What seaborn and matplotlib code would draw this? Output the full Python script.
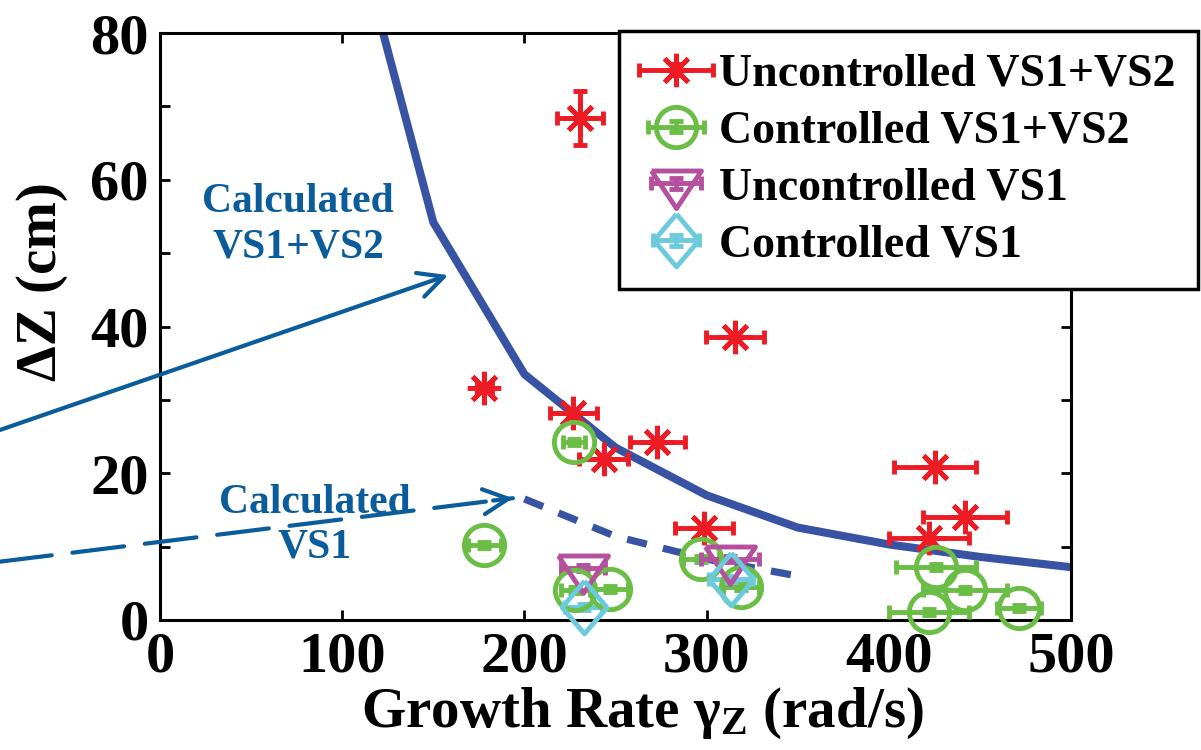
import matplotlib
matplotlib.use("Agg")
import matplotlib.pyplot as plt
from matplotlib.ticker import MultipleLocator
from matplotlib.legend_handler import HandlerErrorbar
import seaborn as sns

# calculated displacement curves
calc_both_rate = [100, 150, 200, 250, 300, 350, 400, 450, 500]
calc_both_dz = [101, 54.2, 33.5, 23.5, 17.0, 12.6, 10.3, 8.6, 7.2]
calc_vs1_rate = [200, 250, 300, 350]
calc_vs1_dz = [16.5, 11.4, 8.3, 6.0]

# measured points (growth rate, dZ, x error, y error)
unc12_rate = [230.6, 178.0, 226.8, 243.5, 273.0, 315.4, 298.5, 425.5, 442.0, 422.0]
unc12_dz = [68.4, 31.6, 28.2, 22.0, 24.3, 38.6, 12.5, 20.8, 14.1, 11.2]
unc12_xerr = [12.7, 4, 13, 13.5, 15, 16, 16, 22.5, 23, 22]
unc12_yerr = [3.7, 0.4, 0.4, 0.4, 0.4, 0.4, 0.4, 0.4, 0.4, 0.4]

con12_rate = [178.0, 227.0, 228.0, 247.0, 297.0, 319.0, 426.0, 442.0, 422.0, 471.5]
con12_dz = [10.2, 24.2, 4.1, 4.2, 8.3, 4.5, 7.2, 4.1, 1.1, 1.6]
con12_xerr = [9, 6, 8, 10, 10, 10, 22, 23, 22, 12]
con12_yerr = [0.4] * 10

unc1_rate = [232.0, 313.0]
unc1_dz = [7.1, 8.3]
unc1_xerr = [12, 16]
unc1_yerr = [0.4, 0.4]

con1_rate = [232.5, 313.5]
con1_dz = [1.8, 5.6]
con1_xerr = [10, 12]
con1_yerr = [0.4, 0.4]

RED = "#ED1C24"
GREEN = "#6BBE45"
MAGENTA = "#B4509E"
CYAN = "#6BCBDC"
CURVE = "#3953A4"
NOTE = "#0B5C9A"

sns.set_theme(style="white")
plt.rcParams.update({
    "font.family": ["Liberation Serif", "DejaVu Serif"],
    "font.weight": "bold",
    "axes.labelweight": "bold",
    "text.color": "black",
    "axes.labelcolor": "black",
    "xtick.color": "black",
    "ytick.color": "black",
    "mathtext.fontset": "custom",
    "mathtext.rm": "Liberation Serif:bold",
    "mathtext.it": "Liberation Serif:bold",
    "mathtext.bf": "Liberation Serif:bold",
    "axes.linewidth": 2.2,
    "axes.edgecolor": "black",
})

fig = plt.figure(figsize=(12.01, 7.5), dpi=100)
ax = fig.add_axes([160 / 1201, 130 / 750, 911 / 1201, 587 / 750])

# calculated curves
sns.lineplot(x=calc_both_rate, y=calc_both_dz, color=CURVE, lw=5.8, ax=ax, zorder=2)
sns.lineplot(x=calc_vs1_rate, y=calc_vs1_dz, color=CURVE, lw=5.2, ax=ax,
             linestyle=(0, (2.8, 2.3)), zorder=2)

asterisk = (8, 2, 0)
tri_down = [(-1, 0.5), (1, 0.5), (0, -1), (-1, 0.5)]
diamond = [(0, 1), (0.85, 0), (0, -1), (-0.85, 0), (0, 1)]

series = [
    ("Uncontrolled VS1+VS2", unc12_rate, unc12_dz, unc12_xerr, unc12_yerr, RED, asterisk, 24, 0.8),
    ("Controlled VS1+VS2", con12_rate, con12_dz, con12_xerr, con12_yerr, GREEN, "o", 29, 0.62),
    ("Uncontrolled VS1", unc1_rate, unc1_dz, unc1_xerr, unc1_yerr, MAGENTA, tri_down, 36, 0.55),
    ("Controlled VS1", con1_rate, con1_dz, con1_xerr, con1_yerr, CYAN, diamond, 38, 0.5),
]

handles, labels, hmap = [], [], {}
for name, x, y, xe, ye, col, mk, ms, hx in series:
    eb = ax.errorbar(x, y, xerr=xe, yerr=ye, linestyle="none", marker=mk, ms=ms,
                     mfc="none", mec=col, mew=3.5, ecolor=col, elinewidth=3.5,
                     capsize=5, capthick=3.5, clip_on=False, zorder=3)
    handles.append(eb)
    labels.append(name)
    hmap[eb] = HandlerErrorbar(xerr_size=hx, yerr_size=0.12)

ax.set_xlim(0, 500)
ax.set_ylim(0, 80)
ax.set_xticks(range(0, 501, 100))
ax.set_yticks(range(0, 81, 20))
ax.yaxis.set_minor_locator(MultipleLocator(10))
ax.tick_params(which="both", direction="in", bottom=True, left=True, top=True, right=True,
               length=7, width=2, colors="black", labelsize=42)
ax.tick_params(axis="x", pad=8)
ax.tick_params(axis="y", pad=8)

ax.set_xlabel(r"Growth Rate $\mathrm{\gamma_Z}$ (rad/s)", fontsize=41, va="top")
ax.xaxis.set_label_coords((642 - 160) / 911, -(686 - 620) / 587)
ax.set_ylabel("ΔZ (cm)", fontsize=41, va="center")
ax.yaxis.set_label_coords(-(160 - 42) / 911, (620 - 282) / 587)

# annotations
ax.text(75.8, 53.9, "Calculated\nVS1+VS2", color=NOTE, fontsize=30, ha="center",
        va="center", linespacing=1.25, zorder=3)
ax.text(85, 12.9, "Calculated\nVS1", color=NOTE, fontsize=30, ha="center",
        va="center", linespacing=1.25, zorder=3)

ax.annotate("", xy=(158.2, 47.0), xytext=(-87.8, 25.9), annotation_clip=False,
            arrowprops=dict(arrowstyle="->,head_length=0.9,head_width=0.45", color=NOTE,
                            lw=3, mutation_scale=20, shrinkA=0, shrinkB=0), zorder=4)
ax.annotate("", xy=(193.7, 16.6), xytext=(-87.8, 7.95), annotation_clip=False,
            arrowprops=dict(arrowstyle="-", color=NOTE, lw=3, linestyle=(0, (12.5, 5)),
                            shrinkA=0, shrinkB=0), zorder=4)
ax.annotate("", xy=(193.7, 16.6), xytext=(182.8, 16.28), annotation_clip=False,
            arrowprops=dict(arrowstyle="->,head_length=0.9,head_width=0.45", color=NOTE,
                            lw=3, mutation_scale=20, shrinkA=0, shrinkB=0), zorder=4)

leg = ax.legend(handles, labels, handler_map=hmap, loc="upper right",
                bbox_to_anchor=(1198 / 1201, 1 - 31 / 750), bbox_transform=fig.transFigure,
                borderaxespad=0, fontsize=33, handlelength=1.5, handletextpad=0.18,
                borderpad=0.5, labelspacing=0.32, fancybox=False, edgecolor="black",
                framealpha=1)
leg.get_frame().set_linewidth(2.5)

fig.savefig("out.png", dpi=100)
